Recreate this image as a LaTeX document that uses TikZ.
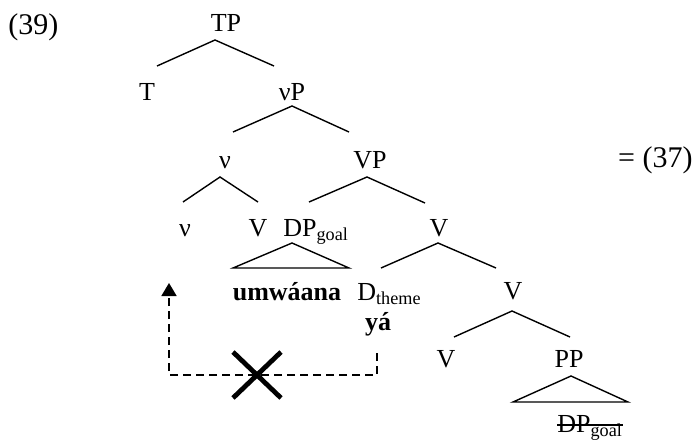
\documentclass[tikz,border=0pt]{standalone}
\usepackage{fontspec}
\setmainfont{Liberation Serif}
\usetikzlibrary{calc}
\usetikzlibrary{arrows.meta}

\begin{document}
\begin{tikzpicture}[x=0.5pt,y=-0.5pt,
  font=\fontsize{13}{15}\selectfont,
  lbl/.style={inner sep=0pt,anchor=base},
  exnum/.style={inner sep=0pt,font=\fontsize{15}{17}\selectfont},
  branch/.style={black,line width=0.7pt},
  move/.style={black,line width=0.9pt,dash pattern=on 4pt off 2.5pt,-{Triangle[length=6.5pt,width=7.5pt]}}]
\useasboundingbox (0,0) rectangle (695,439);
% labels
\node[exnum,anchor=base west] (ex) at (8,34) {(39)};
\node[exnum,anchor=base east] (eq) at (693,167) {= (37)};
\node[lbl] (TP) at (226,32) {TP};
\node[lbl] (T) at (147,100) {T};
\node[lbl] (vP) at (292,100) {νP};
\node[lbl] (v1) at (225,168) {ν};
\node[lbl] (VP) at (370,168) {VP};
\node[lbl] (v2) at (185,236) {ν};
\node[lbl] (V1) at (258,236) {V};
\node[lbl,anchor=base west] (DPg) at (283,236) {DP\textsubscript{goal}};
\node[lbl] (Vb) at (439,236) {V};
\node[lbl] (umw) at (287,300) {\textbf{umwáana}};
\node[lbl,anchor=base west] (Dth) at (357,300) {D\textsubscript{theme}};
\node[lbl] (ya) at (378,330) {\textbf{yá}};
\node[lbl] (Vc) at (513,299) {V};
\node[lbl] (Vd) at (446,367) {V};
\node[lbl] (PP) at (569,367) {PP};
\node[lbl,anchor=base west] (DPs) at (557,432) {DP\textsubscript{goal}};
% branches
\draw[branch] ($(T.base)+(10,-34)$) -- ($(TP.base)+(-11,8)$) -- ($(vP.base)+(-18,-34)$);
\draw[branch] ($(v1.base)+(8,-36)$) -- ($(vP.base)+(0,6)$) -- ($(VP.base)+(-21,-36)$);
\draw[branch] ($(v2.base)+(-2,-34)$) -- ($(v1.base)+(-5,9)$) -- ($(V1.base)+(0,-34)$);
\draw[branch] ($(DPg.base west)+(26,-34)$) -- ($(VP.base)+(-3,9)$) -- ($(Vb.base)+(-14,-33)$);
\draw[branch] ($(Dth.base west)+(24,-32)$) -- ($(Vb.base)+(-1,7)$) -- ($(Vc.base)+(-17,-31)$);
\draw[branch] ($(Vd.base)+(8,-30)$) -- ($(Vc.base)+(-1,12)$) -- ($(PP.base)+(1,-30)$);
% triangles
\draw[branch] ($(DPg.base west)+(9,7)$) -- ($(DPg.base west)+(-50,32)$) -- ($(DPg.base west)+(66,32)$) -- cycle;
\draw[branch] ($(PP.base)+(2,9)$) -- ($(PP.base)+(-56,35)$) -- ($(PP.base)+(59,35)$) -- cycle;
% deleted copy
\draw[branch] ($(DPs.base west)+(0,-7)$) -- ($(DPs.base east)+(0,-7)$);
% blocked movement
\draw[move] ($(ya.base)+(-1,23)$) -- ++(0,22) -| ($(v2.base)+(-16,47)$);
\coordinate (block) at (257,375);
\draw[line width=2.4pt] (block) ++(-24,-23) -- ++(48,46);
\draw[line width=2.4pt] (block) ++(24,-23) -- ++(-48,46);
\end{tikzpicture}
\end{document}
